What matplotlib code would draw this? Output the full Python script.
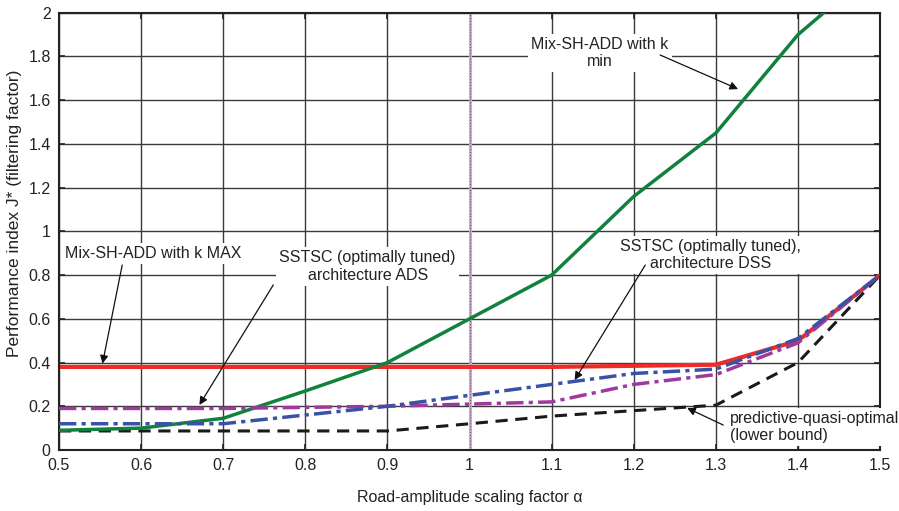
import matplotlib
matplotlib.use("Agg")
import matplotlib.pyplot as plt

plt.rcParams['font.family'] = ['Liberation Sans', 'DejaVu Sans']

alpha = [0.5, 0.6, 0.7, 0.8, 0.9, 1.0, 1.1, 1.2, 1.3, 1.4, 1.5]

mix_kmin = [0.09, 0.10, 0.145, 0.27, 0.40, 0.60, 0.80, 1.16, 1.45, 1.90, 2.22]
mix_kmax = [0.38, 0.38, 0.38, 0.38, 0.38, 0.38, 0.38, 0.385, 0.39, 0.50, 0.80]
sstsc_dss = [0.12, 0.12, 0.12, 0.16, 0.20, 0.25, 0.30, 0.35, 0.37, 0.51, 0.80]
sstsc_ads = [0.19, 0.19, 0.19, 0.195, 0.20, 0.21, 0.22, 0.30, 0.345, 0.49, 0.80]
lower_bound = [0.087, 0.087, 0.087, 0.087, 0.087, 0.12, 0.155, 0.18, 0.205, 0.40, 0.80]

x_ticks = [0.5, 0.6, 0.7, 0.8, 0.9, 1.0, 1.1, 1.2, 1.3, 1.4, 1.5]
x_ticklabels = ['0.5', '0.6', '0.7', '0.8', '0.9', '1', '1.1', '1.2', '1.3', '1.4', '1.5']
y_ticks = [0, 0.2, 0.4, 0.6, 0.8, 1.0, 1.2, 1.4, 1.6, 1.8, 2.0]
y_ticklabels = ['0', '0.2', '0.4', '0.6', '0.8', '1', '1.2', '1.4', '1.6', '1.8', '2']

fig = plt.figure(figsize=(8.99, 5.11), dpi=100)
ax = fig.add_axes([0.0656, 0.1194, 0.9134, 0.8556])

ax.set_xlim(0.5, 1.5)
ax.set_ylim(0, 2)
ax.set_xticks(x_ticks)
ax.set_xticklabels(x_ticklabels)
ax.set_yticks(y_ticks)
ax.set_yticklabels(y_ticklabels)
ax.grid(True, color='#3a3a3a', linewidth=1.0)
ax.set_axisbelow(True)
ax.tick_params(direction='in', length=4, width=1.2, labelsize=11.5, colors='#222222',
               top=True, right=True, pad=6)
for s in ax.spines.values():
    s.set_color('#222222')
    s.set_linewidth(1.5)

# reference line at alpha = 1
ax.axvline(1.0, color='#d8a0d4', linewidth=2.2, zorder=1.5)
ax.axvline(1.0, color='#555555', linewidth=0.7, linestyle=(0, (1, 2)), zorder=1.6)

ax.plot(alpha, lower_bound, color='#1a1a1a', linewidth=2.2, linestyle=(0, (4, 2.5)), zorder=3)
ax.plot(alpha, mix_kmin, color='#11813e', linewidth=2.5, zorder=3)
ax.plot(alpha, sstsc_ads, color='#a0399c', linewidth=2.5, linestyle=(0, (5, 1.5, 1.2, 1.5)), zorder=4)
ax.plot(alpha, sstsc_dss, color='#3a52a6', linewidth=2.5, linestyle=(0, (5, 1.5, 1.2, 1.5)), zorder=5)
ax.plot(alpha, mix_kmax, color='#ee2b24', linewidth=3.0, zorder=2.5)

ax.set_xlabel('Road-amplitude scaling factor \u03b1', fontsize=11.5, color='#222222', labelpad=12)
ax.set_ylabel('Performance index J* (filtering factor)', fontsize=12.5, color='#222222')
ax.yaxis.set_label_coords(-0.045, 0.542)

box = dict(boxstyle='square,pad=0.2', facecolor='white', edgecolor='none')
arrow = dict(arrowstyle='-|>', color='#111111', linewidth=0.9, mutation_scale=12,
             shrinkA=0, shrinkB=0)
fs = 11.5
ls = 1.2

ax.text(0.507, 0.90, 'Mix-SH-ADD with k MAX', ha='left', va='center',
        fontsize=fs, color='#222222', bbox=box, zorder=6)
ax.annotate('', xy=(0.553, 0.395), xytext=(0.577, 0.846), arrowprops=arrow, zorder=6)

ax.text(0.876, 0.84, 'SSTSC (optimally tuned)\narchitecture ADS', ha='center', va='center',
        fontsize=fs, color='#222222', bbox=box, linespacing=ls, zorder=6)
ax.annotate('', xy=(0.671, 0.206), xytext=(0.761, 0.755), arrowprops=arrow, zorder=6)

ax.text(1.293, 0.892, 'SSTSC (optimally tuned),\narchitecture DSS', ha='center', va='center',
        fontsize=fs, color='#222222', bbox=box, linespacing=ls, zorder=6)
ax.annotate('', xy=(1.128, 0.32), xytext=(1.214, 0.846), arrowprops=arrow, zorder=6)

ax.text(1.317, 0.105, 'predictive-quasi-optimal\n(lower bound)', ha='left', va='center',
        fontsize=fs, color='#222222', bbox=box, linespacing=ls, zorder=6)
ax.annotate('', xy=(1.265, 0.192), xytext=(1.309, 0.114), arrowprops=arrow, zorder=6)

ax.text(1.159, 1.816, 'Mix-SH-ADD with k\nmin', ha='center', va='center',
        fontsize=fs, color='#222222', bbox=box, linespacing=ls, zorder=6)
ax.annotate('', xy=(1.327, 1.651), xytext=(1.232, 1.807), arrowprops=arrow, zorder=6)

fig.savefig('out.png', dpi=100)
